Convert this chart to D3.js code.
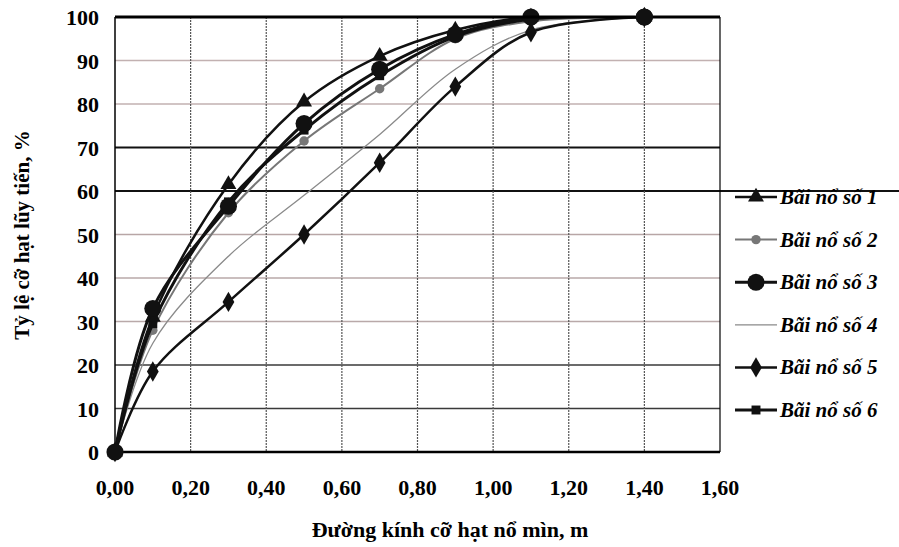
<!DOCTYPE html>
<html>
<head>
<meta charset="utf-8">
<script src="https://cdn.jsdelivr.net/npm/d3@7"></script>
<style>
  body { margin: 0; background: #fff; }
  svg { display: block; font-family: "Liberation Serif", "DejaVu Serif", serif; }
</style>
</head>
<body>
<svg width="899" height="547"></svg>
<script>
'use strict';

// particle size, m
var sizes = [0, 0.1, 0.3, 0.5, 0.7, 0.9, 1.1, 1.4];

// cumulative passing, %
var blast1 = [0, 31, 61.5, 80.5, 91, 97, 100, 100];
var blast2 = [0, 28, 55, 71.5, 83.5, 95, 99, 100];
var blast3 = [0, 33, 56.5, 75.5, 88, 96, 100, 100];
var blast4 = [0, 25, 45, 59, 73, 88, 97, 100];
var blast5 = [0, 18.5, 34.5, 50, 66.5, 84, 96.5, 100];
var blast6 = [0, 29.5, 57.5, 74, 86.5, 95.5, 99.5, 100];

var seriesNames = ['Bãi nổ số 1', 'Bãi nổ số 2', 'Bãi nổ số 3', 'Bãi nổ số 4', 'Bãi nổ số 5', 'Bãi nổ số 6'];
var xTicks = [0, 0.2, 0.4, 0.6, 0.8, 1.0, 1.2, 1.4, 1.6];
var yTicks = [0, 10, 20, 30, 40, 50, 60, 70, 80, 90, 100];

var svg = d3.select('svg');

var x = d3.scaleLinear().domain([0, 1.6]).range([115, 720]);
var y = d3.scaleLinear().domain([0, 100]).range([452, 17]);

var fmt = function(d) { return d3.format('.2f')(d).replace('.', ','); };

// keep the smoothed curves from poking above the 100 % border
svg.append('defs')
  .append('clipPath')
  .attr('id', 'plot-clip')
  .append('rect')
  .attr('x', 0)
  .attr('y', y(100) - 1)
  .attr('width', 899)
  .attr('height', 547);

// horizontal grid, the scan shows some lines dark and some faded
var gridStyle = {
  10: ['#3a3a3a', 1.5], 20: ['#3a3a3a', 1.5], 30: ['#b9a9a9', 1.5],
  40: ['#b9a9a9', 1.5], 50: ['#b8a6a6', 1.5], 60: ['#111', 2],
  70: ['#111', 2], 80: ['#c2b1b1', 1.5], 90: ['#c2b1b1', 1.5]
};

svg.append('g')
  .selectAll('line')
  .data(yTicks.filter(function(d) { return d > 0 && d < 100; }))
  .enter()
  .append('line')
  .attr('x1', x(0))
  .attr('x2', function(d) { return d === 60 ? 899 : x(1.6); })
  .attr('y1', y)
  .attr('y2', y)
  .attr('stroke', function(d) { return gridStyle[d][0]; })
  .attr('stroke-width', function(d) { return gridStyle[d][1]; });

// vertical grid
svg.append('g')
  .selectAll('line')
  .data(xTicks.slice(1, -1))
  .enter()
  .append('line')
  .attr('x1', x).attr('x2', x)
  .attr('y1', y(100)).attr('y2', y(0))
  .attr('stroke', '#555')
  .attr('stroke-width', 1.2)
  .attr('stroke-dasharray', '2,1');

// frame
svg.append('line').attr('x1', x(0)).attr('x2', x(1.6)).attr('y1', y(0)).attr('y2', y(0))
  .attr('stroke', '#000').attr('stroke-width', 2.5);
svg.append('line').attr('x1', x(0)).attr('x2', x(0)).attr('y1', y(100)).attr('y2', y(0))
  .attr('stroke', '#000').attr('stroke-width', 1.5);
svg.append('line').attr('x1', x(1.6)).attr('x2', x(1.6)).attr('y1', y(100)).attr('y2', y(0))
  .attr('stroke', '#000').attr('stroke-width', 1.2);

// tick labels
svg.append('g')
  .selectAll('text')
  .data(yTicks)
  .enter()
  .append('text')
  .attr('x', 99)
  .attr('y', function(d) { return y(d) + 8; })
  .attr('text-anchor', 'end')
  .style('font-size', '22px')
  .style('font-weight', 'bold')
  .text(function(d) { return d; });

svg.append('g')
  .selectAll('text')
  .data(xTicks)
  .enter()
  .append('text')
  .attr('x', x)
  .attr('y', 495)
  .attr('text-anchor', 'middle')
  .style('font-size', '22px')
  .style('font-weight', 'bold')
  .text(fmt);

// axis titles
svg.append('text')
  .attr('x', 450)
  .attr('y', 537)
  .attr('text-anchor', 'middle')
  .style('font-size', '22px')
  .style('font-weight', 'bold')
  .text('Đường kính cỡ hạt nổ mìn, m');

svg.append('text')
  .attr('transform', 'translate(29,235) rotate(-90)')
  .attr('text-anchor', 'middle')
  .style('font-size', '21px')
  .style('font-weight', 'bold')
  .text('Tỷ lệ cỡ hạt lũy tiến, %');

// series
var series = [
  {name: seriesNames[0], values: blast1, color: '#111', width: 2.5, marker: d3.symbolTriangle, size: 110, fill: '#111'},
  {name: seriesNames[1], values: blast2, color: '#777', width: 2, marker: d3.symbolCircle, size: 70, fill: '#777'},
  {name: seriesNames[2], values: blast3, color: '#111', width: 3, marker: d3.symbolCircle, size: 230, fill: '#111'},
  {name: seriesNames[3], values: blast4, color: '#8a8a8a', width: 1.3, marker: null},
  {name: seriesNames[4], values: blast5, color: '#111', width: 2.5, marker: d3.symbolDiamond, size: 120, fill: '#111'},
  {name: seriesNames[5], values: blast6, color: '#111', width: 3, marker: d3.symbolSquare, size: 80, fill: '#111'}
];

var line = d3.line()
  .x(function(d) { return x(d[0]); })
  .y(function(d) { return y(d[1]); })
  .curve(d3.curveCatmullRom.alpha(0.5));

function points(s) {
  return sizes.map(function(v, i) { return [v, s.values[i]]; });
}

var drawOrder = [3, 1, 4, 5, 0, 2];

drawOrder.forEach(function(i) {
  var s = series[i];
  var g = svg.append('g');
  g.append('path')
    .datum(points(s))
    .attr('d', line)
    .attr('clip-path', 'url(#plot-clip)')
    .attr('fill', 'none')
    .attr('stroke', s.color)
    .attr('stroke-width', s.width);
  if (s.marker) {
    g.selectAll('path.m')
      .data(points(s))
      .enter()
      .append('path')
      .attr('class', 'm')
      .attr('transform', function(d) { return 'translate(' + x(d[0]) + ',' + y(d[1]) + ')'; })
      .attr('d', d3.symbol().type(s.marker).size(s.size))
      .attr('fill', s.fill);
  }
});

// top border drawn over the curves, they flatten out along it at 100 %
svg.append('line').attr('x1', x(0)).attr('x2', x(1.6)).attr('y1', y(100)).attr('y2', y(100))
  .attr('stroke', '#000').attr('stroke-width', 3);
svg.append('path')
  .attr('transform', 'translate(' + x(1.4) + ',' + y(100) + ')')
  .attr('d', d3.symbol().type(d3.symbolCircle).size(230))
  .attr('fill', '#111');

// legend
var legend = svg.append('g')
  .selectAll('g')
  .data(series)
  .enter()
  .append('g')
  .attr('transform', function(d, i) { return 'translate(735,' + (197 + i * 42.6) + ')'; });

legend.append('line')
  .attr('x1', 0).attr('x2', 42)
  .attr('stroke', function(d) { return d.color; })
  .attr('stroke-width', function(d) { return d.width; });

legend.filter(function(d) { return d.marker; })
  .append('path')
  .attr('transform', 'translate(21,0)')
  .attr('d', function(d) { return d3.symbol().type(d.marker).size(d.size)(); })
  .attr('fill', function(d) { return d.fill; });

legend.append('text')
  .attr('x', 45)
  .attr('y', 7)
  .style('font-size', '21px')
  .style('font-weight', 'bold')
  .style('font-style', 'italic')
  .text(function(d) { return d.name; });
</script>
</body>
</html>
